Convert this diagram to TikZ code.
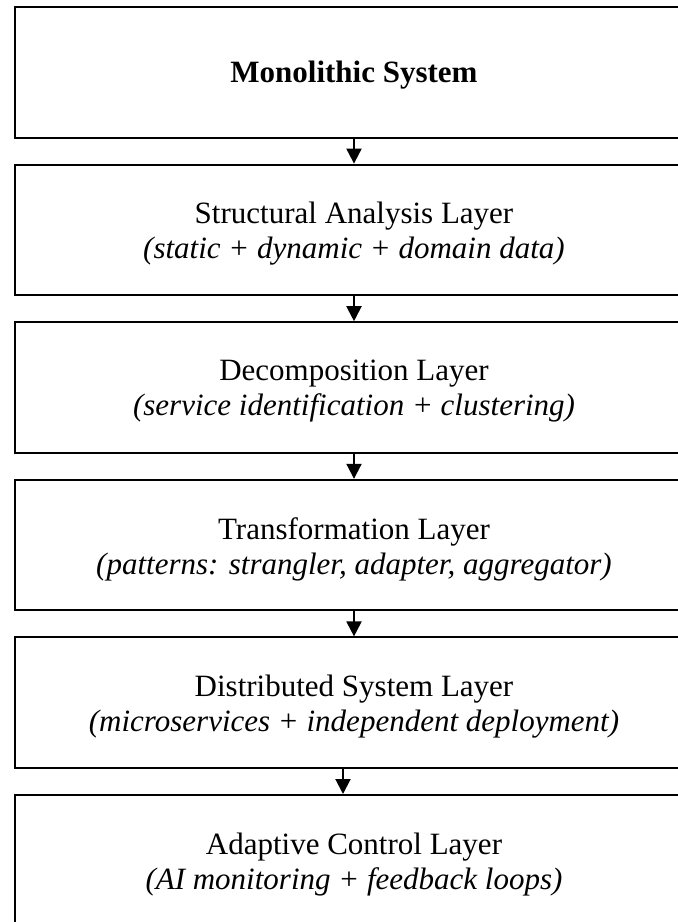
\documentclass[tikz,border=0pt]{standalone}
\usepackage{fontspec}
\setmainfont{Liberation Serif}
\usetikzlibrary{arrows.meta, positioning}

\begin{document}
\begin{tikzpicture}[
    layerbox/.style={draw=black,line width=1pt,minimum width=339pt,minimum height=65.25pt,inner sep=0pt},
    layertext/.style={align=center,inner sep=0pt,font=\fontsize{15.5}{17.5}\selectfont},
    flow/.style={-{Triangle[width=7.5pt,length=7.5pt]},line width=1pt},
    node distance=12.55pt]
    \useasboundingbox (0,0) rectangle (339pt,-461pt);

    % sistema di partenza
    \node[layerbox,anchor=north west] (mono) at (7pt,-3pt) {};

    % livelli della migrazione
    \node[layerbox,below=of mono] (analysis) {};
    \node[layerbox,below=of analysis] (decomp) {};
    \node[layerbox,below=of decomp] (transf) {};
    \node[layerbox,below=of transf] (distrib) {};
    \node[layerbox,below=of distrib] (adaptive) {};

    % testi
    \node[layertext] (monotxt) at ([yshift=-1.5pt]mono.center) {\textbf{Monolithic System}};
    \node[layertext] (analysistxt) at ([yshift=-2pt]analysis.center) {Structural Analysis Layer\\\textit{(static + dynamic + domain data)}};
    \node[layertext] (decomptxt) at ([yshift=-2pt]decomp.center) {Decomposition Layer\\\textit{(service identification + clustering)}};
    \node[layertext] (transftxt) at ([yshift=-2pt]transf.center) {Transformation Layer\\\textit{(patterns: strangler, adapter, aggregator)}};
    \node[layertext] (distribtxt) at ([yshift=-2pt]distrib.center) {Distributed System Layer\\\textit{(microservices + independent deployment)}};
    \node[layertext] (adaptivetxt) at ([yshift=-2pt]adaptive.center) {Adaptive Control Layer\\\textit{(AI monitoring + feedback loops)}};

    % frecce
    \draw[flow] (mono) -- (analysis);
    \draw[flow] (analysis) -- (decomp);
    \draw[flow] (decomp) -- (transf);
    \draw[flow] (transf) -- (distrib);
    \draw[flow] ([xshift=-5.5pt]distrib.south) -- ([xshift=-5.5pt]adaptive.north);
\end{tikzpicture}
\end{document}
